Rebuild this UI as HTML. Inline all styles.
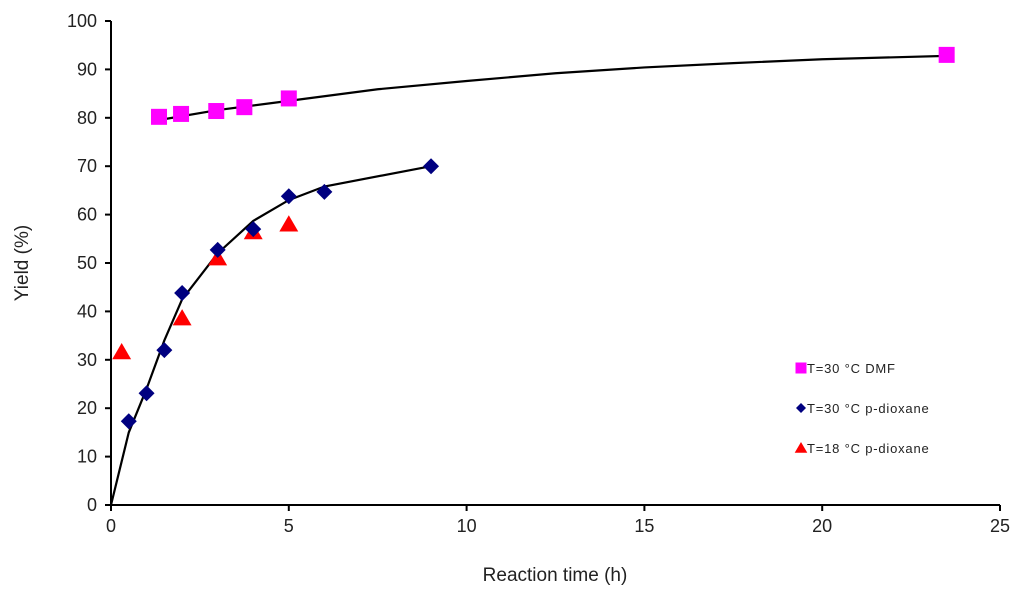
<!DOCTYPE html>
<html><head><meta charset="utf-8"><style>
body{margin:0;background:#fff;}
svg text{font-family:"Liberation Sans",Arial,sans-serif;}
</style></head><body>
<svg id="chart" width="1024" height="597" xmlns="http://www.w3.org/2000/svg">
<g id="axes"></g><g id="marks"></g><g id="legend"></g>
</svg>
<script>
const xTicks=[0,5,10,15,20,25];
const yTicks=[0,10,20,30,40,50,60,70,80,90,100];
const dmfX=[1.35,1.97,2.96,3.75,5,23.5];
const dmfY=[80.2,80.8,81.4,82.2,84,93];
const dmfFitX=[1.4,3,5,7.5,10,12.5,15,17.5,20,23.5];
const dmfFitY=[79.6,81.6,83.5,85.9,87.6,89.2,90.4,91.3,92.1,92.8];
const dioxX=[0.5,1,1.5,2,3,4,5,6,9];
const dioxY=[17.3,23.1,32,43.8,52.7,57,63.8,64.7,70];
const dioxFitX=[0,0.5,1,1.5,2,3,4,5,6,9];
const dioxFitY=[0,15,24,34,42.5,52,58.7,63,65.8,70];
const triX=[0.3,2,3,4,5];
const triY=[31.6,38.6,51,56.4,58];
const NS="http://www.w3.org/2000/svg";
const X=v=>111+v*(889/25), Y=v=>505-v*4.84;
function mk(p,t,a){const e=document.createElementNS(NS,t);for(const k in a)e.setAttribute(k,a[k]);p.appendChild(e);return e;}
const ax=document.getElementById('axes'),mg=document.getElementById('marks'),lg=document.getElementById('legend');
let e=mk(ax,'line',{x1:111,y1:505,x2:1000,y2:505,stroke:'#000','stroke-width':2});

e=mk(ax,'line',{x1:111,y1:21,x2:111,y2:505,stroke:'#000','stroke-width':2});

xTicks.forEach(t=>{mk(ax,'line',{x1:X(t),y1:505,x2:X(t),y2:511,stroke:'#000','stroke-width':2});
 e=mk(ax,'text',{x:X(t),y:532,'text-anchor':'middle','font-size':18,fill:'#222'});e.textContent=t;
 });
yTicks.forEach(t=>{mk(ax,'line',{x1:105,y1:Y(t),x2:111,y2:Y(t),stroke:'#000','stroke-width':2});
 e=mk(ax,'text',{x:97,y:Y(t)+6,'text-anchor':'end','font-size':18,fill:'#222'});e.textContent=t;
 });
e=mk(ax,'text',{x:555,y:581,'text-anchor':'middle','font-size':19,fill:'#222'});e.textContent='Reaction time (h)';

e=mk(ax,'text',{x:0,y:0,'text-anchor':'middle','font-size':19,fill:'#222',transform:'translate(28,263) rotate(-90)'});e.textContent='Yield (%)';

function line(xs,ys,n){const e=mk(mg,'polyline',{points:xs.map((x,i)=>X(x)+','+Y(ys[i])).join(' '),fill:'none',stroke:'#000','stroke-width':2.2});
 }
line(dmfFitX,dmfFitY,'dmf-fit-line');line(dioxFitX,dioxFitY,'dioxane-fit-line');
function sq(p,x,y,s){return mk(p,'rect',{x:x-s,y:y-s,width:2*s,height:2*s,fill:'#ff00ff'});}
function di(p,x,y,s){return mk(p,'polygon',{points:`${x},${y-s} ${x+s},${y} ${x},${y+s} ${x-s},${y}`,fill:'#000080'});}
function tr(p,x,y,s){return mk(p,'polygon',{points:`${x},${y-s} ${x+s*1.05},${y+s*0.8} ${x-s*1.05},${y+s*0.8}`,fill:'#ff0000'});}
dmfX.forEach((x,i)=>{const e=sq(mg,X(x),Y(dmfY[i]),8);});
triX.forEach((x,i)=>{const e=tr(mg,X(x),Y(triY[i]),9);});
dioxX.forEach((x,i)=>{const e=di(mg,X(x),Y(dioxY[i]),8);});
const labels=['T=30 °C DMF','T=30 °C p-dioxane','T=18 °C p-dioxane'];
[sq,di,tr].forEach((f,i)=>{const y=368+i*40;const g=mk(lg,'g',{});
 
 f(g,801,y,i==0?5.5:i==1?5:6);
 const t=mk(g,'text',{x:807,y:y+5,'font-size':13,fill:'#222','letter-spacing':0.8});t.textContent=labels[i];});
</script>
</body></html>
